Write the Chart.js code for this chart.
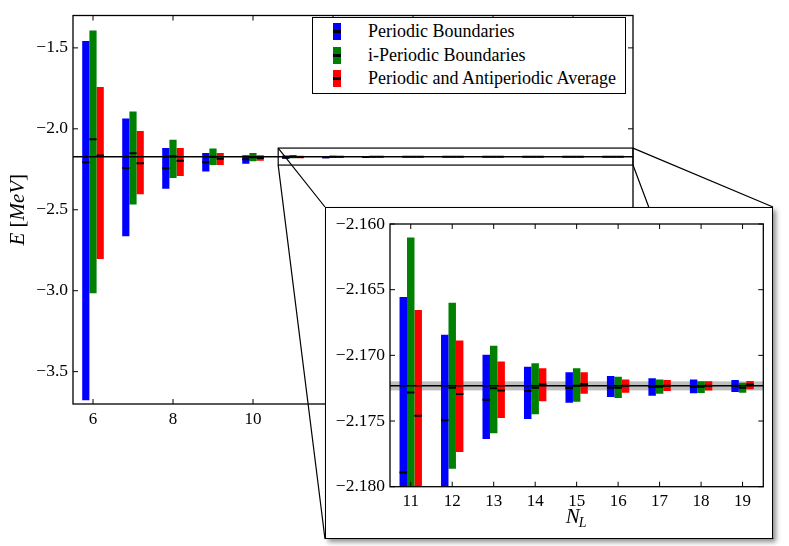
<!DOCTYPE html>
<html lang="en">
<head>
  <meta charset="UTF-8">
  <title>Binding energy vs N_L</title>
  <script src="https://cdn.jsdelivr.net/npm/chart.js"></script>
  <style>
    body { margin: 0; background: #fff; }
    #wrap { position: relative; width: 789px; height: 546px; overflow: hidden;
            font-family: 'Liberation Serif', 'Times New Roman', 'DejaVu Serif', serif; }
    #mainChart { position: absolute; left: 0; top: 0; }
    #legend { position: absolute; left: 312px; top: 17px; width: 314px; height: 77px; box-sizing: border-box;
              border: 1.3px solid #000; background: #fff; padding-top: 2px; }
    .row { position: relative; height: 23.5px; line-height: 23.5px; font-size: 18px; color: #000; }
    .swatch { position: absolute; left: 20px; top: 3px; width: 7.5px; height: 17px; }
    .txt { position: absolute; left: 55px; white-space: nowrap; }
    #inset { position: absolute; left: 325px; top: 207px; width: 446px; height: 330px; border: 1px solid #000;
             background: #fff; box-shadow: 3px 3px 5px rgba(0,0,0,0.45); }
    #insetChart { display: block; }
  </style>
</head>
<body>
  <div id="wrap">
    <canvas id="mainChart" width="789" height="546"></canvas>
    <div id="legend"></div>
    <div id="inset"><canvas id="insetChart" width="446" height="330"></canvas></div>
  </div>

  <script>
    // lattice sizes
    const nValues = [6, 7, 8, 9, 10, 11, 12, 13, 14, 15, 16, 17, 18, 19];

    const seriesNames = ['Periodic Boundaries', 'i-Periodic Boundaries', 'Periodic and Antiperiodic Average'];
    const seriesColors = ['#0000ff', '#008000', '#ff0000'];

    // Periodic boundaries: low / high / central value
    const periodicLow  = [-3.677, -2.663, -2.371, -2.264, -2.216, -2.1835, -2.1812, -2.17637, -2.17485, -2.17360, -2.17317, -2.17307, -2.17289, -2.17279];
    const periodicHigh = [-1.457, -1.937, -2.119, -2.149, -2.163, -2.16556, -2.16843, -2.16995, -2.17086, -2.17129, -2.17157, -2.17175, -2.17183, -2.17188];
    const periodicMid  = [-2.207, -2.242, -2.244, -2.207, -2.188, -2.17891, -2.17495, -2.17338, -2.17272, -2.17249, -2.17246, -2.17239, -2.17239, -2.17231];

    // i-periodic boundaries
    const iPeriodicLow  = [-3.016, -2.468, -2.304, -2.224, -2.200, -2.1812, -2.17863, -2.17594, -2.17449, -2.17353, -2.17325, -2.17292, -2.17287, -2.17284];
    const iPeriodicHigh = [-1.393, -1.893, -2.068, -2.121, -2.150, -2.16102, -2.16599, -2.16926, -2.17061, -2.17099, -2.17162, -2.17183, -2.17198, -2.17208];
    const iPeriodicMid  = [-2.064, -2.151, -2.169, -2.173, -2.175, -2.17282, -2.17246, -2.17251, -2.17246, -2.17231, -2.17246, -2.17239, -2.17239, -2.17246];

    // periodic + antiperiodic average
    const averageLow  = [-2.804, -2.405, -2.292, -2.224, -2.197, -2.1825, -2.17736, -2.17477, -2.17350, -2.17292, -2.17284, -2.17272, -2.17267, -2.17259];
    const averageHigh = [-1.742, -2.014, -2.119, -2.149, -2.163, -2.16655, -2.16886, -2.17046, -2.17099, -2.17129, -2.17183, -2.17188, -2.17198, -2.17196];
    const averageMid  = [-2.165, -2.212, -2.197, -2.185, -2.180, -2.17459, -2.17294, -2.17267, -2.17221, -2.17218, -2.17231, -2.17231, -2.17231, -2.17221];

    // extrapolated value and its error band
    const refEnergy = -2.17231;
    const refBandLow = -2.17267;
    const refBandHigh = -2.17198;

    // tick labels
    const mainXTicks = [6, 8, 10, 12, 14, 16, 18];
    const mainYTicks = [-3.5, -3.0, -2.5, -2.0, -1.5];
    const insetXTicks = [11, 12, 13, 14, 15, 16, 17, 18, 19];
    const insetYTicks = [-2.180, -2.175, -2.170, -2.165, -2.160];

    // region marked on the main plot for the zoom
    const zoomBox = { xMin: 10.63, xMax: 19.5, yMin: -2.224, yMax: -2.119 };

    const lows = [periodicLow, iPeriodicLow, averageLow];
    const highs = [periodicHigh, iPeriodicHigh, averageHigh];
    const mids = [periodicMid, iPeriodicMid, averageMid];

    const serif = "'Liberation Serif', 'Times New Roman', 'DejaVu Serif', serif";
    Chart.defaults.font.family = serif;
    Chart.defaults.color = '#000';

    const minus = s => s.replace('-', '\u2212');

    function makeDatasets() {
      return seriesNames.map((name, k) => ({
        label: name,
        data: nValues.map((n, i) => ({ x: n, y: [lows[k][i], highs[k][i]] })),
        backgroundColor: seriesColors[k],
        borderWidth: 0,
        barPercentage: 1,
        categoryPercentage: 0.54
      }));
    }

    // band, central markers, reference line, frame with inward ticks
    const physicsPlugin = {
      id: 'physics',
      beforeDatasetsDraw(chart) {
        const { ctx, chartArea: a, scales: { y } } = chart;
        ctx.save();
        ctx.beginPath(); ctx.rect(a.left, a.top, a.width, a.height); ctx.clip();
        const y1 = y.getPixelForValue(refBandHigh), y2 = y.getPixelForValue(refBandLow);
        ctx.fillStyle = 'rgba(128,128,128,0.5)';
        ctx.fillRect(a.left, y1, a.width, y2 - y1);
        ctx.restore();
      },
      afterDatasetsDraw(chart) {
        const { ctx, chartArea: a, scales: { y } } = chart;
        ctx.save();
        ctx.beginPath(); ctx.rect(a.left, a.top, a.width, a.height); ctx.clip();
        ctx.strokeStyle = '#000';
        ctx.lineWidth = 1.5;
        const yr = y.getPixelForValue(refEnergy);
        ctx.beginPath(); ctx.moveTo(a.left, yr); ctx.lineTo(a.right, yr); ctx.stroke();
        ctx.lineWidth = 2;
        mids.forEach((arr, k) => {
          chart.getDatasetMeta(k).data.forEach((bar, i) => {
            const p = bar.getProps(['x', 'width'], true);
            const yy = y.getPixelForValue(arr[i]);
            ctx.beginPath(); ctx.moveTo(p.x - p.width / 2, yy); ctx.lineTo(p.x + p.width / 2, yy); ctx.stroke();
          });
        });
        ctx.restore();
      },
      afterDraw(chart) {
        const { ctx, chartArea: a, scales: { x, y } } = chart;
        const opts = chart.options.plugins.physics;
        ctx.save();
        ctx.strokeStyle = '#000';
        ctx.lineWidth = 1;
        const tl = 5;
        x.ticks.forEach(t => {
          const px = x.getPixelForValue(t.value);
          ctx.beginPath();
          ctx.moveTo(px, a.bottom); ctx.lineTo(px, a.bottom - tl);
          ctx.moveTo(px, a.top); ctx.lineTo(px, a.top + tl);
          ctx.stroke();
        });
        y.ticks.forEach(t => {
          const py = y.getPixelForValue(t.value);
          ctx.beginPath();
          ctx.moveTo(a.left, py); ctx.lineTo(a.left + tl, py);
          ctx.moveTo(a.right, py); ctx.lineTo(a.right - tl, py);
          ctx.stroke();
        });
        ctx.lineWidth = 1.3;
        ctx.strokeRect(a.left, a.top, a.width, a.height);

        if (opts.zoom) {
          const bx1 = x.getPixelForValue(zoomBox.xMin), bx2 = x.getPixelForValue(zoomBox.xMax);
          const by1 = y.getPixelForValue(zoomBox.yMax), by2 = y.getPixelForValue(zoomBox.yMin);
          ctx.lineWidth = 1.2;
          ctx.strokeRect(bx1, by1, bx2 - bx1, by2 - by1);
          const el = document.getElementById('inset');
          const L = el.offsetLeft, T = el.offsetTop, R = L + el.offsetWidth, B = T + el.offsetHeight;
          ctx.beginPath();
          ctx.moveTo(bx1, by1); ctx.lineTo(L, T);
          ctx.moveTo(bx1, by2); ctx.lineTo(L, B);
          ctx.moveTo(bx2, by1); ctx.lineTo(R, T);
          ctx.moveTo(bx2, by2); ctx.lineTo(R, B);
          ctx.stroke();
        }

        ctx.fillStyle = '#000';
        ctx.textBaseline = 'middle';
        if (opts.yTitle) {
          // E [MeV]
          ctx.translate(18, (a.top + a.bottom) / 2);
          ctx.rotate(-Math.PI / 2);
          const parts = [['E ', 'italic'], ['[', 'normal'], ['MeV', 'italic'], [']', 'normal']];
          let w = 0;
          parts.forEach(p => { ctx.font = p[1] + ' 21px ' + serif; w += ctx.measureText(p[0]).width; });
          let cx = -w / 2;
          ctx.textAlign = 'left';
          parts.forEach(p => { ctx.font = p[1] + ' 21px ' + serif; ctx.fillText(p[0], cx, 0); cx += ctx.measureText(p[0]).width; });
        }
        if (opts.xTitle) {
          // N_L
          ctx.textAlign = 'left';
          ctx.font = 'italic 21px ' + serif;
          const wN = ctx.measureText('N').width;
          ctx.font = 'italic 14px ' + serif;
          const wL = ctx.measureText('L').width;
          const cx = (a.left + a.right) / 2 - (wN + wL) / 2;
          const cy = a.bottom + 31;
          ctx.font = 'italic 21px ' + serif;
          ctx.fillText('N', cx, cy);
          ctx.font = 'italic 14px ' + serif;
          ctx.fillText('L', cx + wN - 1, cy + 6);
        }
        ctx.restore();
      }
    };

    function makeOptions(cfg) {
      return {
        responsive: false,
        animation: false,
        layout: { padding: cfg.padding },
        plugins: { legend: { display: false }, tooltip: { enabled: false }, physics: cfg.physics },
        scales: {
          x: {
            type: 'linear', min: cfg.xMin, max: cfg.xMax, offset: false,
            grid: { display: false, drawTicks: false }, border: { display: false },
            afterBuildTicks: s => { s.ticks = cfg.xTicks.map(v => ({ value: v })); },
            afterFit: s => { s.height = 30; },
            ticks: { padding: 5, autoSkip: false, maxRotation: 0, font: { size: 17 }, callback: v => String(v) }
          },
          y: {
            type: 'linear', min: cfg.yMin, max: cfg.yMax,
            grid: { display: false, drawTicks: false }, border: { display: false },
            afterBuildTicks: s => { s.ticks = cfg.yTicks.map(v => ({ value: v })); },
            afterFit: s => { s.width = cfg.yWidth; },
            ticks: { padding: 5, autoSkip: false, font: { size: 17.5 }, callback: v => minus(v.toFixed(cfg.yDigits)) }
          }
        }
      };
    }

    new Chart('mainChart', {
      type: 'bar',
      data: { datasets: makeDatasets() },
      options: makeOptions({
        padding: { left: 0, right: 156, top: 8, bottom: 112 },
        xMin: 5.5, xMax: 19.5, yMin: -3.7, yMax: -1.3,
        xTicks: mainXTicks, yTicks: mainYTicks, yDigits: 1, yWidth: 73,
        physics: { zoom: true, yTitle: true }
      }),
      plugins: [physicsPlugin]
    });

    new Chart('insetChart', {
      type: 'bar',
      data: { datasets: makeDatasets() },
      options: makeOptions({
        padding: { left: 0, right: 8.7, top: 16, bottom: 21.3 },
        xMin: 10.5, xMax: 19.5, yMin: -2.180, yMax: -2.160,
        xTicks: insetXTicks, yTicks: insetYTicks, yDigits: 3, yWidth: 64,
        physics: { xTitle: true }
      }),
      plugins: [physicsPlugin]
    });

    // legend
    const legend = document.getElementById('legend');
    seriesNames.forEach((name, k) => {
      const row = document.createElement('div');
      row.className = 'row';
      const c = seriesColors[k];
      row.innerHTML = `<span class="swatch" style="background:linear-gradient(to bottom, ${c} 0 42%, #000 42% 58%, ${c} 58% 100%)"></span><span class="txt">${name}</span>`;
      legend.appendChild(row);
    });
  </script>
</body>
</html>
